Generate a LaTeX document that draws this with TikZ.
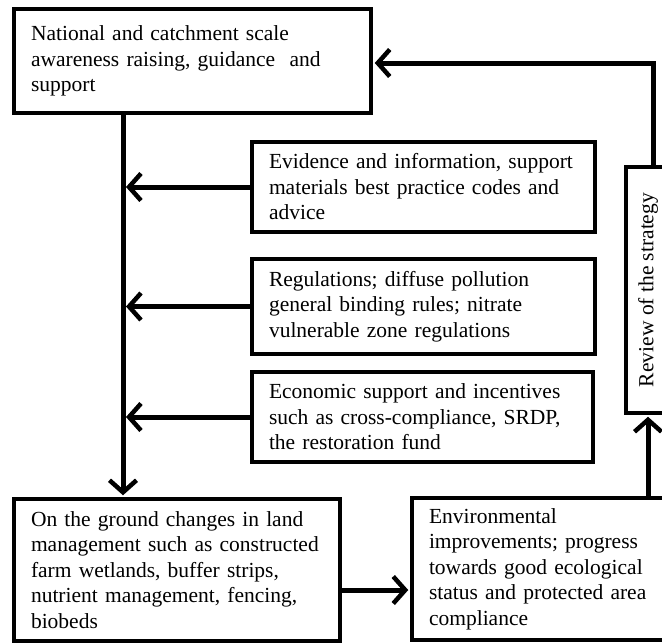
\documentclass[tikz,border=0pt]{standalone}
\usepackage{fontspec}
\setmainfont{Liberation Serif}
\usetikzlibrary{arrows.meta,calc}
\begin{document}
\begin{tikzpicture}[x=1pt,y=-1pt,
  box/.style={draw=black, line width=3.5pt, fill=white, rectangle, align=left,
    inner xsep=17pt, inner ysep=0pt, font=\fontsize{21.5}{25.5}\selectfont},
  arr/.style={line width=5pt, -{Straight Barb[length=12pt,width=27pt,line width=4.5pt]}}
]
\useasboundingbox (0,0) rectangle (662,643);
\clip (0,0) rectangle (662,643);
\fill[white] (0,0) rectangle (662,643);

\node[box, minimum width=357pt, minimum height=104pt, text width=323pt] (top) at (192.5,61)
  {National and catchment scale\\awareness raising, guidance\ \ and\\support};
\node[box, minimum width=343pt, minimum height=90pt, text width=309pt] (ev) at (423.5,187)
  {Evidence and information, support\\materials best practice codes and\\advice};
\node[box, minimum width=343pt, minimum height=95pt, text width=309pt] (reg) at (423.5,306.5)
  {Regulations; diffuse pollution\\general binding rules; nitrate\\vulnerable zone regulations};
\node[box, minimum width=341pt, minimum height=90pt, text width=307pt] (eco) at (422.5,417)
  {Economic support and incentives\\such as cross-compliance, SRDP,\\the restoration fund};
\node[box, minimum width=246pt, minimum height=44pt, inner xsep=0pt, align=center, rotate=90] (rev) at (648,290)
  {Review of the strategy};
\node[box, minimum width=326pt, minimum height=142pt, text width=292pt] (bl) at (177,570)
  {On the ground changes in land\\management such as constructed\\farm wetlands, buffer strips,\\nutrient management, fencing,\\biobeds};
\node[box, minimum width=288pt, minimum height=142pt, text width=254pt] (env) at (556,569)
  {Environmental\\improvements; progress\\towards good ecological\\status and protected area\\compliance};

\coordinate (spine) at (123,0);
\coordinate (row) at (0,590);
\coordinate (upx) at (653,0);

\draw[arr] (top.south -| spine) -- ($(bl.north -| spine)+(0,-2)$);
\draw[arr] (ev.west) -- ($(ev.west -| spine)+(3,0)$);
\draw[arr] (reg.west) -- ($(reg.west -| spine)+(3,0)$);
\draw[arr] (eco.west) -- ($(eco.west -| spine)+(3,0)$);
\draw[arr] (bl.east |- row) -- ($(env.west |- row)+(-2,0)$);
\draw[arr] (env.north -| rev.west) -- ($(rev.west)+(0,2)$);
\draw[arr] (rev.east -| upx) |- ($(top.east)+(2,2)$);
\end{tikzpicture}
\end{document}
